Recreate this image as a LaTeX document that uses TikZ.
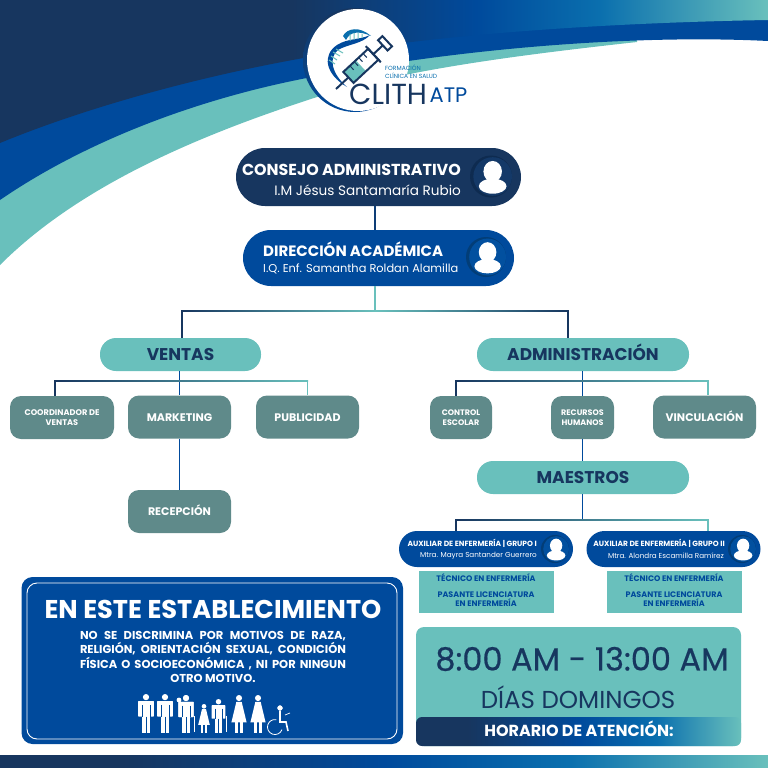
\documentclass[tikz,border=0pt]{standalone}
\usepackage{fontspec}
\setmainfont{Poppins}
\newfontfamily\hoursfont{Poppins}[FakeBold=0.5]
\usepackage{tikz}
\definecolor{navyc}{HTML}{17365F}
\definecolor{bluec}{HTML}{004A9C}
\definecolor{midc}{HTML}{0A6FAE}
\definecolor{tealc}{HTML}{69C0BC}
\definecolor{grayc}{HTML}{5F8A8A}
\pgfdeclarehorizontalshading{bandshade}{100bp}{color(0bp)=(navyc); color(44bp)=(navyc); color(56bp)=(bluec); color(64bp)=(midc); color(75bp)=(tealc); color(100bp)=(tealc)}
\pgfdeclarehorizontalshading{stripshade}{100bp}{color(0bp)=(navyc); color(33bp)=(navyc); color(50bp)=(bluec); color(62bp)=(midc); color(75bp)=(tealc); color(100bp)=(tealc)}
\newcommand{\fsz}[1]{\fontsize{#1}{#1}\selectfont}
% person in a ring: x, y, radius, ring colour
\newcommand{\personicon}[4]{%
  \fill[black!30!#4] (#1,#2) circle (#3);
  \fill[#4] (#1+0.08*#3,#2) circle (0.92*#3);
  \fill[white] (#1+0.08*#3,#2-0.24*#3) ellipse (0.44*#3 and 0.5*#3);
  \fill[white] (#1+0.08*#3,#2+0.46*#3) ellipse (0.66*#3 and 0.36*#3);
}
% standing figures: x, y of feet, height
\newcommand{\manicon}[3]{%
  \fill[white] (#1,#2-0.92*#3) circle (0.08*#3);
  \fill[white,rounded corners=0.5pt] (#1-0.2*#3,#2-0.82*#3) rectangle (#1+0.2*#3,#2-0.42*#3);
  \fill[white] (#1-0.1*#3,#2-0.82*#3) rectangle (#1+0.1*#3,#2);
  \draw[bluec,line width=0.4pt] (#1-0.11*#3,#2-0.72*#3) -- (#1-0.11*#3,#2-0.42*#3) (#1+0.11*#3,#2-0.72*#3) -- (#1+0.11*#3,#2-0.42*#3) (#1,#2-0.42*#3) -- (#1,#2);
}
\newcommand{\womanicon}[3]{%
  \fill[white] (#1,#2-0.92*#3) circle (0.08*#3);
  \fill[white] (#1-0.07*#3,#2-0.82*#3) -- (#1+0.07*#3,#2-0.82*#3) -- (#1+0.2*#3,#2-0.28*#3) -- (#1-0.2*#3,#2-0.28*#3) -- cycle;
  \fill[white] (#1-0.1*#3,#2-0.3*#3) rectangle (#1-0.02*#3,#2);
  \fill[white] (#1+0.02*#3,#2-0.3*#3) rectangle (#1+0.1*#3,#2);
}
\tikzset{
  pill/.style={rounded corners=#1,inner sep=0pt},
  link/.style={line width=1.8pt},
  tealbox/.style={fill=tealc,rounded corners=16pt,minimum height=33pt,font=\bfseries\fsz{17},text=navyc,inner sep=0pt,text height=12pt,text depth=0pt},
  graybox/.style={fill=grayc,rounded corners=11pt,minimum height=43pt,font=\bfseries\fsz{8},text=white,inner sep=0pt,align=center},
  grayone/.style={fill=grayc,rounded corners=11pt,minimum height=43pt,minimum width=103pt,font=\bfseries\fsz{11},text=white,inner sep=0pt,text height=8pt,text depth=0pt},
  auxbox/.style={fill=bluec,rounded corners=18pt,minimum width=174pt,minimum height=36pt,inner sep=0pt},
  auxtitle/.style={font=\bfseries\fsz{7.5},text=white,anchor=east,inner sep=0pt},
  auxname/.style={font=\fsz{7.2},text=white,anchor=east,inner sep=0pt},
  gradetext/.style={font=\bfseries\fsz{8},text=bluec,align=center,inner sep=0pt},
  gradebox/.style={fill=tealc,minimum width=135pt,minimum height=42pt,inner sep=0pt},
  barfade/.style={left color=navyc,right color=tealc},
}
\begin{document}
\begin{tikzpicture}[x=1pt,y=-1pt]
  \useasboundingbox (0,0) rectangle (768,768);
  % background bands
  \fill[tealc] (0,0) -- (637,0) -- (637,42) .. controls (520,55) and (400,70) .. (314,98) .. controls (200,135) and (80,185) .. (0,265) -- cycle;
  \fill[bluec] (0,0) -- (768,0) -- (768,41) .. controls (650,35) and (480,45) .. (312,77) .. controls (190,100) and (80,145) .. (0,200) -- cycle;
  \shade[shading=bandshade] (0,0) -- (768,0) -- (768,20) .. controls (650,22) and (460,30) .. (309,57) .. controls (190,78) and (80,110) .. (0,143) -- cycle;
  \shade[shading=stripshade] (0,755) rectangle (768,768);
  % logo
  \shade[top color=navyc,bottom color=bluec] (355,60) circle (52);
  \fill[white] (358,60) circle (51);
  \fill[bluec] (347,87) .. controls (325,74) and (322,55) .. (337,45) .. controls (348,38) and (360,40) .. (370,35) .. controls (362,44) and (348,44) .. (338,50) .. controls (328,58) and (332,74) .. (347,87) -- cycle;
  \fill[midc] (343,36) .. controls (347,28) and (360,26) .. (371,36) .. controls (360,31) and (350,31) .. (346,40) -- cycle;
  \draw[tealc,line width=1pt] (329,60) -- (335,64) (331,56) -- (337,60) (333,52) -- (340,56) (336,49) -- (343,53) (350,34) -- (350,41) (354,33) -- (354,40) (358,33) -- (358,39) (362,34) -- (362,38);
  \begin{scope}[shift={(336,89)},rotate=43]
    \draw[navyc,line width=2pt] (0,0) -- (17,0);
    \fill[tealc] (17,-7) rectangle (34,7);
    \draw[navyc,line width=2pt] (17,-7.5) rectangle (51,7.5);
    \draw[navyc,line width=2pt] (51,-11) -- (51,11) (51,0) -- (64,0) (64,-7) rectangle (70,7);
    \foreach \tickpos in {26,32,38,44} \draw[navyc,line width=1pt] (\tickpos,-7.5) -- (\tickpos,-2);
  \end{scope}
  \node[font=\fsz{6},text=midc,anchor=west,inner sep=0pt] (logotopa) at (385,67.5) {FORMACIÓN};
  \node[font=\fsz{6},text=midc,anchor=west,inner sep=0pt] (logotopb) at (385,76) {CLÍNICA EN SALUD};
  \node[font=\fsz{29},text=navyc,anchor=west,inner sep=0pt] (logoname) at (349,94) {CLITH};
  \node[font=\fsz{21},text=bluec,anchor=west,inner sep=0pt] (logoatp) at (429.5,95) {ATP};
  % top boxes
  \node[fill=navyc,pill=29pt,minimum width=285pt,minimum height=58pt] (consejo) at (378.5,177) {};
  \node[font=\bfseries\fsz{15.9},text=white,anchor=east,inner sep=0pt] (consejotitle) at (461,170) {CONSEJO ADMINISTRATIVO};
  \node[font=\fsz{13.6},text=white,anchor=east,inner sep=0pt] (consejoname) at (461,190) {I.M Jésus Santamaría Rubio};
  \personicon{491}{176.5}{21}{navyc!85!bluec}
  \node[fill=bluec,pill=28pt,minimum width=271pt,minimum height=56pt] (direccion) at (378.5,258) {};
  \node[font=\bfseries\fsz{15},text=white,anchor=west,inner sep=0pt,text height=10.5pt,text depth=0pt] (dirtitle) at (263,251) {DIRECCIÓN ACADÉMICA};
  \node[font=\fsz{11.4},text=white,anchor=west,inner sep=0pt] (dirname) at (263,269) {I.Q. Enf. Samantha Roldan Alamilla};
  \personicon{486}{257}{20}{bluec!85!midc}
  % second level
  \node[tealbox,minimum width=161pt] (ventas) at (180.5,354.5) {VENTAS};
  \node[tealbox,minimum width=212pt] (admin) at (583,354.5) {ADMINISTRACIÓN};
  \node[graybox,minimum width=104pt,font=\bfseries\fsz{8.2}] (coord) at (62,417.5) {COORDINADOR DE\\[2pt]VENTAS};
  \node[grayone] (marketing) at (179.5,417) {MARKETING};
  \node[grayone] (publicidad) at (307.5,417) {PUBLICIDAD};
  \node[grayone] (recepcion) at (179.5,511.5) {RECEPCIÓN};
  \node[graybox,minimum width=62pt] (control) at (461,417.5) {CONTROL\\[2pt]ESCOLAR};
  \node[graybox,minimum width=63pt] (recursos) at (582.5,417.5) {RECURSOS\\[2pt]HUMANOS};
  \node[grayone] (vinculacion) at (704.5,417) {VINCULACIÓN};
  \node[tealbox,minimum width=212pt] (maestros) at (583,477.5) {MAESTROS};
  % teachers
  \node[auxbox] (grupoa) at (486,549) {};
  \node[auxbox] (grupob) at (673.5,549) {};
  \node[auxtitle] (grupoatitle) at (537,543.5) {AUXILIAR DE ENFERMERÍA | GRUPO I};
  \node[auxname] (grupoaname) at (537,556) {Mtra. Mayra Santander Guerrero};
  \node[auxtitle] (grupobtitle) at (725,543.5) {AUXILIAR DE ENFERMERÍA | GRUPO II};
  \node[auxname] (grupobname) at (724,556) {Mtra. Alondra Escamilla Ramírez};
  \personicon{555}{549}{14}{bluec!85!midc}
  \personicon{742}{549}{14}{bluec!85!midc}
  \node[gradebox] (gradoa) at (486.5,592) {};
  \node[gradebox] (gradob) at (674,592) {};
  \node[gradetext] (tecnicoa) at (486,578) {TÉCNICO EN ENFERMERÍA};
  \node[gradetext] (pasantea) at (486,599.5) {PASANTE LICENCIATURA\\[1pt]EN ENFERMERÍA};
  \node[gradetext] (tecnicob) at (674,578) {TÉCNICO EN ENFERMERÍA};
  \node[gradetext] (pasanteb) at (674,599.5) {PASANTE LICENCIATURA\\[1pt]EN ENFERMERÍA};
  % connectors
  \coordinate (barmid) at (375,311);
  \draw[link,navyc!60!bluec] (barmid |- consejo.south) -- (barmid |- direccion.north);
  \draw[link,tealc] (barmid |- direccion.south) -- (barmid);
  \draw[link,navyc] (barmid) -| ([xshift=1.5pt]ventas.north);
  \draw[link,navyc] (barmid) -| ([xshift=-15pt]admin.north);
  \shade[barfade] (182,310.1) rectangle (375,311.9);
  \shade[left color=tealc,right color=navyc] (375,310.1) rectangle (568,311.9);
  \draw[link,bluec] (marketing.north |- ventas.south) -- (marketing.north);
  \coordinate (ventasbar) at (179.5,381);
  \draw[link,navyc] (ventasbar) -| ([xshift=-7pt]coord.north);
  \draw[link,tealc] (ventasbar) -| (publicidad.north);
  \shade[barfade] (55,380.1) rectangle (308,381.9);
  \draw[link,bluec] (marketing) -- (recepcion);
  \draw[link,bluec] (recursos.north |- admin.south) -- (recursos.north);
  \coordinate (adminbar) at (582.5,381);
  \draw[link,navyc] (adminbar) -| ([xshift=-5pt]control.north);
  \draw[link,tealc] (adminbar) -| ([xshift=3.5pt]vinculacion.north);
  \shade[barfade] (456,380.1) rectangle (708,381.9);
  \draw[link,bluec] (recursos.south) -- (recursos.south |- maestros.north);
  \coordinate (maestrosbar) at (582.5,520);
  \draw[link,bluec] (recursos.south |- maestros.south) -- (maestrosbar);
  \draw[link,navyc] (maestrosbar) -| ([xshift=-30pt]grupoa.north);
  \draw[link,tealc] (maestrosbar) -| ([xshift=34.5pt]grupob.north);
  \shade[barfade] (456,519.1) rectangle (708,520.9);
  % notice
  \fill[bluec,rounded corners=11pt] (21.5,577) rectangle (403,744);
  \draw[white,line width=0.9pt,rounded corners=10pt] (27,583) rectangle (397,739);
  \node[font=\bfseries\fsz{25.7},text=white,inner sep=0pt,text height=18pt,text depth=0pt] (avisotitle) at (213,609) {EN ESTE ESTABLECIMIENTO};
  \node[font=\bfseries\fontsize{11.5}{14.2}\selectfont,text=white,align=center,inner sep=0pt] (avisotext) at (213,657) {\makebox[266pt][s]{NO SE DISCRIMINA POR MOTIVOS DE RAZA,}\\\makebox[266pt][s]{RELIGIÓN, ORIENTACIÓN SEXUAL, CONDICIÓN}\\\makebox[266pt][s]{FÍSICA O SOCIOECONÓMICA , NI POR NINGUN}\\OTRO MOTIVO.};
  \foreach \figx in {146,165} \manicon{\figx}{733}{39}
  \manicon{186}{733}{38}
  \fill[white] (179,700) circle (2.3);
  \womanicon{204}{733}{29}
  \manicon{218.5}{733}{34}
  \draw[white,line width=0.6pt] (194,716) -- (194,732) (226,716) -- (226,732);
  \foreach \figx in {239,258} \womanicon{\figx}{733}{38}
  % wheelchair
  \fill[white] (280,708) circle (2.6);
  \draw[white,line width=1.6pt] (280,711) -- (280,722) -- (286,722) -- (288,731);
  \draw[white,line width=0.8pt] (282,729.6) arc (20:280:7.5);
  \draw[white,line width=0.7pt] (285,715) -- (290,713);
  % hours
  \fill[tealc,rounded corners=8pt] (416,627) rectangle (741,746);
  \shade[shading=stripshade,rounded corners=6pt] (416,717) rectangle (741,746);
  \node[font=\hoursfont\fsz{32},text=navyc,inner sep=0pt] (horas) at (582,659) {8:00 AM - 13:00 AM};
  \node[font=\fsz{24.5},text=navyc,inner sep=0pt,text height=17pt,text depth=0pt] (dias) at (578,700) {DÍAS DOMINGOS};
  \node[font=\bfseries\fsz{16},text=white,inner sep=0pt,text height=11pt,text depth=0pt] (horario) at (579,731) {HORARIO DE ATENCIÓN:};
\end{tikzpicture}
\end{document}
